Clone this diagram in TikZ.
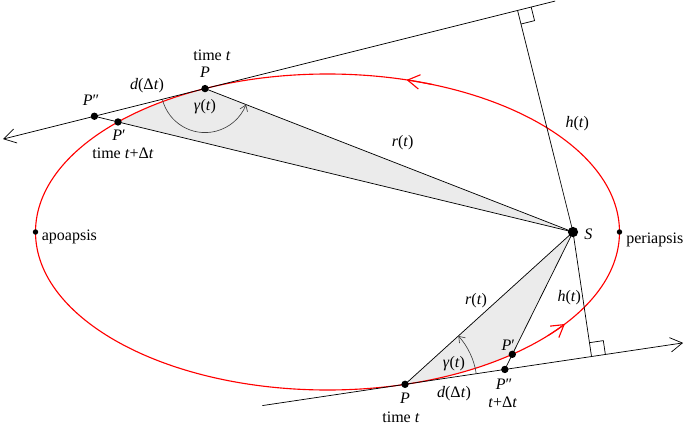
\documentclass[tikz,border=0pt]{standalone}
\usepackage{fontspec}
\setmainfont{Liberation Serif}
\usetikzlibrary{calc,arrows.meta}
\begin{document}
\begin{tikzpicture}[x=0.625pt,y=0.625pt,
  line width=0.45pt,
  orbit/.style={red, line width=0.7pt},
  thinline/.style={black, line width=0.45pt},
  angarc/.style={black!75, line width=0.4pt, -{Straight Barb[length=3.5pt,width=5pt]}},
  barb/.style={-{Straight Barb[length=7.5pt,width=9pt]}},
  dotp/.style={circle, fill=black, inner sep=0pt, minimum size=4.6pt},
  dots/.style={circle, fill=black, inner sep=0pt, minimum size=6.4pt},
  dota/.style={circle, fill=black, inner sep=0pt, minimum size=3.4pt},
  lbl/.style={inner sep=0pt, font=\fontsize{10}{12}\selectfont},
  shade/.style={fill=black!8}
]
\useasboundingbox (0,0) rectangle (685,426);

% geometry
\coordinate (C) at (327.5,194);
\coordinate (S) at (573,194);
% upper construction
\coordinate (Pu) at ($(C)+(114.8:292 and 158)$);
\coordinate (Tu) at ($(Pu)+({-292*sin(114.8)},{158*cos(114.8)})$);
\coordinate (Lu) at ($(Pu)!0.762!(Tu)$);
\coordinate (Ru) at ($(Pu)!-1.321!(Tu)$);
\coordinate (Pua) at ($(C)+(135.85:292 and 158)$);
\coordinate (Pub) at (intersection of S--Pua and Lu--Ru);
\coordinate (Hu) at ($(Pu)!(S)!(Ru)$);
\coordinate (Hux) at ($(Hu)!8.75pt!(Ru)$);
\coordinate (Huy) at ($(Hu)!8.75pt!(S)$);
% lower construction
\coordinate (Pl) at ($(C)+(-74.6:292 and 158)$);
\coordinate (Tl) at ($(Pl)+({-292*sin(-74.6)},{158*cos(-74.6)})$);
\coordinate (Ll) at ($(Pl)!-0.507!(Tl)$);
\coordinate (Rl) at ($(Pl)!0.9876!(Tl)$);
\coordinate (Pla) at ($(C)+(-50.73:292 and 158)$);
\coordinate (Plb) at (intersection of S--Pla and Ll--Rl);
\coordinate (Hl) at ($(Pl)!(S)!(Rl)$);
\coordinate (Hlx) at ($(Hl)!8.75pt!(Rl)$);
\coordinate (Hly) at ($(Hl)!8.75pt!(S)$);

% shaded sectors
\fill[shade] (S) -- (Pu) arc[start angle=114.8, end angle=135.85, x radius=292, y radius=158] -- cycle;
\fill[shade] (S) -- (Pl) arc[start angle=-74.6, end angle=-50.73, x radius=292, y radius=158] -- cycle;

% orbit
\draw[orbit] (C) ellipse[x radius=292, y radius=158];
\draw[orbit, barb] ($(C)+(69:292 and 158)$) arc[start angle=69, end angle=74.3, x radius=292, y radius=158];
\draw[orbit, barb] ($(C)+(-41:292 and 158)$) arc[start angle=-41, end angle=-35.6, x radius=292, y radius=158];

% tangents
\draw[thinline, barb] (Ru) -- (Lu);
\draw[thinline, barb] (Ll) -- (Rl);

% radius lines
\draw[thinline] (S) -- (Pu);
\draw[thinline] (S) -- (Pub);
\draw[thinline] (S) -- (Pl);
\draw[thinline] (S) -- (Plb);

% perpendiculars and right-angle marks
\draw[thinline] (Hu) -- (S) -- (Hl);
\draw[thinline] (Hux) -- ($(Hux)+(Huy)-(Hu)$) -- (Huy);
\draw[thinline] (Hlx) -- ($(Hlx)+(Hly)-(Hl)$) -- (Hly);

% angle arcs
\draw[angarc] ($(Pu)+(194.04:27.5pt)$) arc[start angle=194.04, end angle=338.7, radius=27.5pt];
\draw[angarc] ($(Pl)+(8.48:45pt)$) arc[start angle=8.48, end angle=42.2, radius=45pt];

% dots
\node[dotp] (dPu) at (Pu) {};
\node[dotp] (dPua) at (Pua) {};
\node[dotp] (dPub) at (Pub) {};
\node[dotp] (dPl) at (Pl) {};
\node[dotp] (dPla) at (Pla) {};
\node[dotp] (dPlb) at (Plb) {};
\node[dots] (dS) at (S) {};
\node[dota] (apo) at (35.5,194) {};
\node[dota] (peri) at (619.5,194) {};

% labels upper
\node[lbl] (tu) at (212,371) {time \textit{t}};
\node[lbl] (lPu) at (205,354) {\textit{P}};
\node[lbl] (ldu) at (147,340) {\textit{d}(Δ\textit{t})};
\node[lbl] (lPub) at (91,326) {\textit{P}″};
\node[lbl] (lPua) at (119,291) {\textit{P}′};
\node[lbl] (tdu) at (123,273) {time \textit{t}+Δ\textit{t}};
\node[lbl] (gu) at (205,319) {\textit{γ}(\textit{t})};
\node[lbl] (ru) at (402.7,283) {\textit{r}(\textit{t})};
\node[lbl] (hu) at (577.3,302) {\textit{h}(\textit{t})};
\node[lbl] (lS) at (588.3,192) {\textit{S}};
\node[lbl, anchor=west] (lperi) at (626,186) {periapsis};
\node[lbl, anchor=west] (lapo) at (41.5,189) {apoapsis};
% labels lower
\node[lbl] (rl) at (476,125.3) {\textit{r}(\textit{t})};
\node[lbl] (hl) at (569.3,128.7) {\textit{h}(\textit{t})};
\node[lbl] (lPla) at (508.3,81) {\textit{P}′};
\node[lbl] (gl) at (454,62.7) {\textit{γ}(\textit{t})};
\node[lbl] (lPlb) at (504,42) {\textit{P}″};
\node[lbl] (tdl) at (502.7,23.3) {\textit{t}+Δ\textit{t}};
\node[lbl] (lPl) at (405,27.7) {\textit{P}};
\node[lbl] (tl) at (401,8.7) {time \textit{t}};
\node[lbl] (ldl) at (454,32.7) {\textit{d}(Δ\textit{t})};
\end{tikzpicture}
\end{document}
